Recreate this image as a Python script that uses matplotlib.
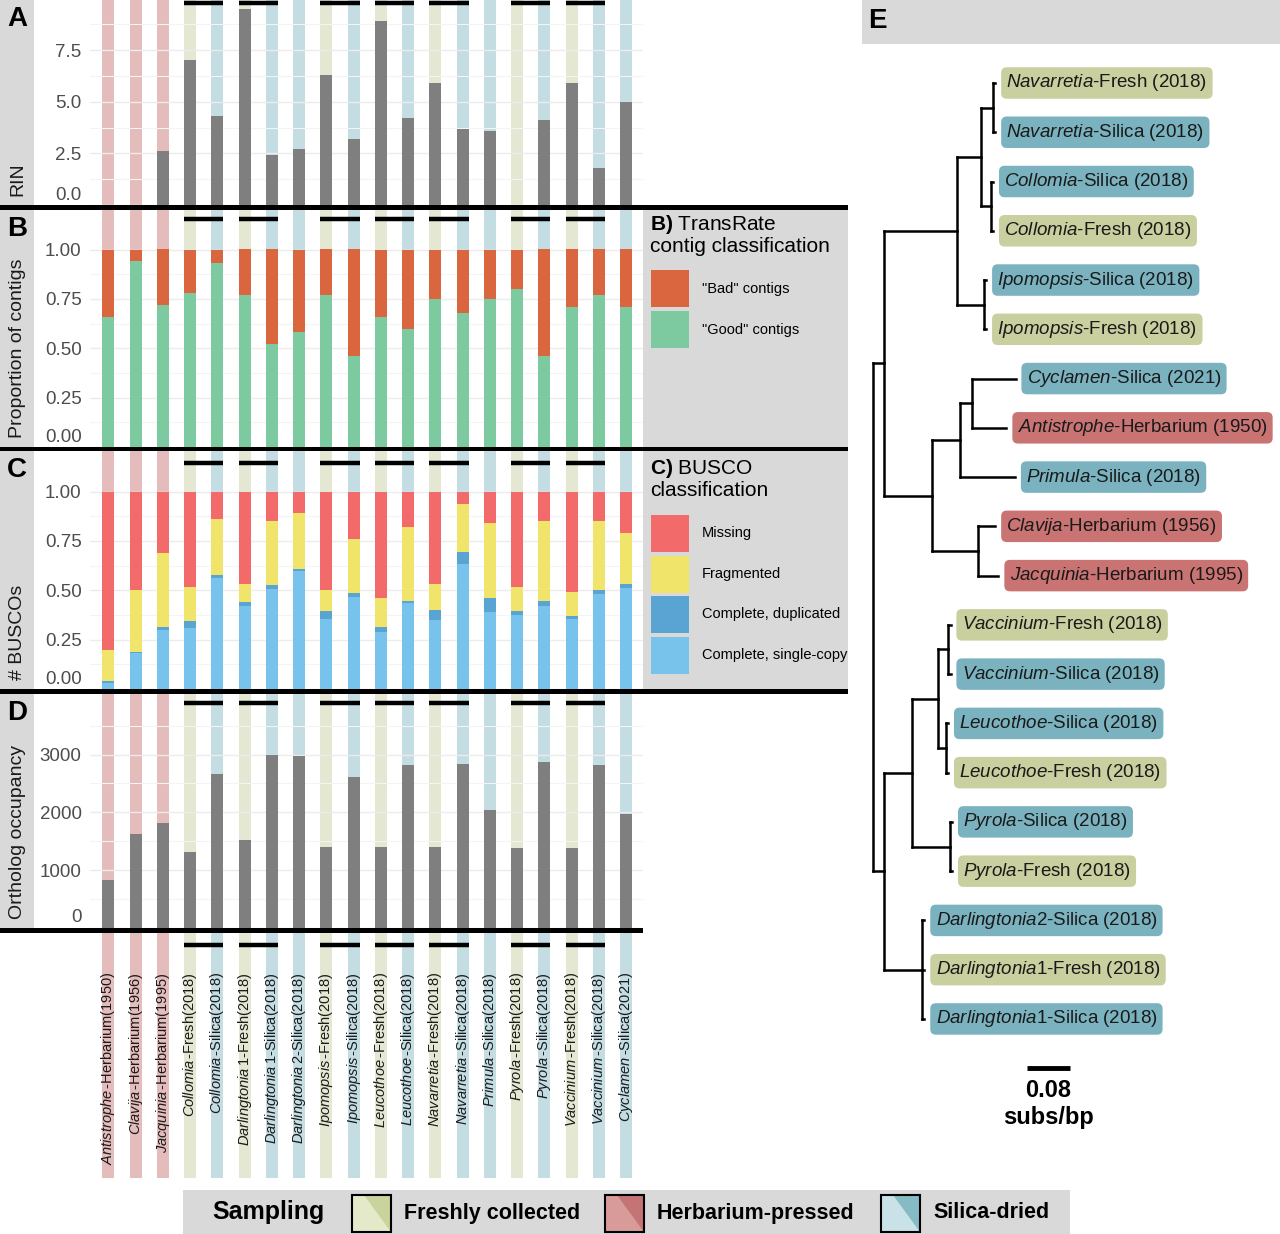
import numpy as np
import matplotlib.pyplot as plt
from matplotlib.patches import Rectangle, Polygon

plt.rcParams['font.family'] = ['Liberation Sans', 'DejaVu Sans']
plt.rcParams['mathtext.fontset'] = 'custom'
plt.rcParams['mathtext.rm'] = 'Liberation Sans'
plt.rcParams['mathtext.it'] = 'Liberation Sans:italic'
plt.rcParams['mathtext.bf'] = 'Liberation Sans:bold'

# ---- data: samples (left panels, left to right) ----
genus = ['Antistrophe', 'Clavija', 'Jacquinia', 'Collomia', 'Collomia', 'Darlingtonia',
         'Darlingtonia', 'Darlingtonia', 'Ipomopsis', 'Ipomopsis', 'Leucothoe', 'Leucothoe',
         'Navarretia', 'Navarretia', 'Primula', 'Pyrola', 'Pyrola', 'Vaccinium', 'Vaccinium',
         'Cyclamen']
suffix = ['-Herbarium(1950)', '-Herbarium(1956)', '-Herbarium(1995)', '-Fresh(2018)',
          '-Silica(2018)', '1-Fresh(2018)', '1-Silica(2018)', '2-Silica(2018)', '-Fresh(2018)',
          '-Silica(2018)', '-Fresh(2018)', '-Silica(2018)', '-Fresh(2018)', '-Silica(2018)',
          '-Silica(2018)', '-Fresh(2018)', '-Silica(2018)', '-Fresh(2018)', '-Silica(2018)',
          '-Silica(2021)']
sampling = ['Herbarium', 'Herbarium', 'Herbarium', 'Fresh', 'Silica', 'Fresh', 'Silica', 'Silica',
            'Fresh', 'Silica', 'Fresh', 'Silica', 'Fresh', 'Silica', 'Silica', 'Fresh', 'Silica',
            'Fresh', 'Silica', 'Silica']
pairs = [(3, 4), (5, 6), (8, 9), (10, 11), (12, 13), (15, 16), (17, 18)]

rin = np.array([np.nan, np.nan, 2.6, 7.0, 4.3, 9.5, 2.4, 2.7, 6.3, 3.2, 8.9, 4.2, 5.9, 3.7, 3.6,
                np.nan, 4.1, 5.9, 1.8, 5.0])
good_contigs = np.array([0.66, 0.94, 0.72, 0.78, 0.93, 0.77, 0.52, 0.58, 0.77, 0.46, 0.66, 0.60,
                         0.75, 0.68, 0.75, 0.80, 0.46, 0.71, 0.77, 0.71])
busco_single = np.array([0.03, 0.18, 0.30, 0.31, 0.56, 0.42, 0.505, 0.60, 0.356, 0.466, 0.29,
                         0.437, 0.35, 0.635, 0.39, 0.377, 0.422, 0.356, 0.483, 0.51])
busco_dup = np.array([0.01, 0.01, 0.015, 0.035, 0.017, 0.02, 0.02, 0.01, 0.041, 0.02, 0.022,
                      0.01, 0.052, 0.057, 0.072, 0.02, 0.025, 0.015, 0.02, 0.02])
busco_frag = np.array([0.16, 0.31, 0.375, 0.17, 0.286, 0.09, 0.326, 0.281, 0.103, 0.272, 0.15,
                       0.375, 0.129, 0.247, 0.379, 0.118, 0.404, 0.119, 0.348, 0.26])
busco_missing = 1 - busco_single - busco_dup - busco_frag
orthologs = np.array([825, 1620, 1820, 1315, 2670, 1530, 3000, 2970, 1400, 2605, 1405, 2815,
                      1405, 2830, 2035, 1390, 2870, 1380, 2820, 1965])

# ---- data: tree (right panel, top to bottom) ----
tree_genus = ['Navarretia', 'Navarretia', 'Collomia', 'Collomia', 'Ipomopsis', 'Ipomopsis',
              'Cyclamen', 'Antistrophe', 'Primula', 'Clavija', 'Jacquinia', 'Vaccinium',
              'Vaccinium', 'Leucothoe', 'Leucothoe', 'Pyrola', 'Pyrola', 'Darlingtonia',
              'Darlingtonia', 'Darlingtonia']
tree_rest = ['-Fresh (2018)', '-Silica (2018)', '-Silica (2018)', '-Fresh (2018)',
             '-Silica (2018)', '-Fresh (2018)', '-Silica (2021)', '-Herbarium (1950)',
             '-Silica (2018)', '-Herbarium (1956)', '-Herbarium (1995)', '-Fresh (2018)',
             '-Silica (2018)', '-Silica (2018)', '-Fresh (2018)', '-Silica (2018)',
             '-Fresh (2018)', '2-Silica (2018)', '1-Fresh (2018)', '1-Silica (2018)']
tree_sampling = ['Fresh', 'Silica', 'Silica', 'Fresh', 'Silica', 'Fresh', 'Silica', 'Herbarium',
                 'Silica', 'Herbarium', 'Herbarium', 'Fresh', 'Silica', 'Silica', 'Fresh',
                 'Silica', 'Fresh', 'Silica', 'Fresh', 'Silica']
tz = 0.004  # near-zero tip branches
# (children, branch length); a tip is (tip index, branch length)
tree = ([
    ([
        ([
            ([([(0, tz), (1, tz)], 0.023), ([(2, tz), (3, tz)], 0.019)], 0.045),
            ([(4, tz), (5, tz)], 0.051),
        ], 0.137),
        ([
            ([([(6, 0.082), (7, 0.065)], 0.022), (8, 0.103)], 0.053),
            ([(9, 0.032), (10, 0.038)], 0.087),
        ], 0.090),
    ], 0.021),
    ([
        ([
            ([([(11, tz), (12, tz)], 0.020), ([(13, tz), (14, tz)], 0.0155)], 0.049),
            ([(15, tz), (16, tz)], 0.072),
        ], 0.052),
        ([(17, tz), (18, tz), (19, tz)], 0.072),
    ], 0.021),
], 0.0)

# ---- colours ----
stripe_col = {'Fresh': '#e4e8d2', 'Herbarium': '#e4bcbc', 'Silica': '#c4dde3'}
tip_col = {'Fresh': '#c9cf9e', 'Herbarium': '#c97373', 'Silica': '#7ab3bf'}
key_col = {'Fresh': ('#e4e9ca', '#c9d39c'), 'Herbarium': ('#d99a9a', '#c47474'),
           'Silica': ('#c9e2e7', '#86bbc5')}
gray_bar = '#7f7f7f'
c_bad, c_good = '#d9663f', '#7dc9a0'
c_miss, c_frag, c_dup, c_single = '#f26a6a', '#f1e46a', '#5aa4d4', '#78c3ec'
panel_gray = '#d9d9d9'
tick_gray = '#4d4d4d'

W, H = 1280, 1234
fig = plt.figure(figsize=(W / 100, H / 100), dpi=100)


def frac_rect(x0, y0, x1, y1):
    return [x0 / W, 1 - y1 / H, (x1 - x0) / W, (y1 - y0) / H]


def fig_rect(x0, y0, x1, y1, color, **kw):
    fig.add_artist(Rectangle((x0 / W, 1 - y1 / H), (x1 - x0) / W, (y1 - y0) / H,
                             transform=fig.transFigure, facecolor=color, edgecolor='none', **kw))


def fig_text(x, y, s, **kw):
    fig.text(x / W, 1 - y / H, s, **kw)


idx = np.arange(len(genus))
bw = 0.44
xlim = ((90 - 108.3) / 27.25, (643 - 108.3) / 27.25)

panels = [
    dict(letter='A', label='RIN', top=0, bottom=205, ymax=9.92, major=[0, 2.5, 5, 7.5],
         minor=[1.25, 3.75, 6.25, 8.75], fmt='{:.1f}', line_off=3),
    dict(letter='B', label='Proportion of contigs', top=210, bottom=447, ymax=1.20,
         major=[0, 0.25, 0.5, 0.75, 1.0], minor=[0.125, 0.375, 0.625, 0.875], fmt='{:.2f}',
         line_off=9),
    dict(letter='C', label='# BUSCOs', top=451, bottom=689, ymax=1.206,
         major=[0, 0.25, 0.5, 0.75, 1.0], minor=[0.125, 0.375, 0.625, 0.875], fmt='{:.2f}',
         line_off=12),
    dict(letter='D', label='Ortholog occupancy', top=694, bottom=928, ymax=4048,
         major=[0, 1000, 2000, 3000], minor=[500, 1500, 2500, 3500], fmt='{:.0f}', line_off=9),
]

axes = []
for p in panels:
    ax = fig.add_axes(frac_rect(90, p['top'], 643, p['bottom']))
    ax.set_xlim(*xlim)
    ax.set_ylim(0, p['ymax'])
    for s in ax.spines.values():
        s.set_visible(False)
    ax.set_facecolor('none')
    ax.bar(idx, p['ymax'], width=bw, color=[stripe_col[s] for s in sampling], zorder=1)
    ax.set_yticks(p['major'])
    # the zero label sits just above the separator bar, placed by hand below
    ax.set_yticklabels(['' if v == 0 else p['fmt'].format(v) for v in p['major']])
    ax.set_yticks(p['minor'], minor=True)
    ax.grid(True, which='major', axis='y', color='#ececec', lw=1.0)
    ax.grid(True, which='minor', axis='y', color='#f4f4f4', lw=0.8)
    ax.set_xticks([])
    ax.tick_params(axis='y', which='both', length=0, labelsize=13.5, labelcolor=tick_gray, pad=6)
    fig_text(82, p['bottom'] - 10, p['fmt'].format(0), fontsize=13.5, color=tick_gray,
             ha='right', va='center')
    yl = 1 - p['line_off'] / (p['bottom'] - p['top'])
    for a, b in pairs:
        ax.plot([a - bw / 2, b + bw / 2], [yl, yl], color='black', lw=3.2,
                solid_capstyle='butt', transform=ax.get_xaxis_transform(), zorder=4)
    # left gray strip with letter and y label
    fig_rect(0, p['top'], 34, p['bottom'], panel_gray)
    fig_text(17, p['top'] + 19, p['letter'], fontsize=20, fontweight='bold', ha='center',
             va='center')
    fig_text(18, p['bottom'] - 9, p['label'], fontsize=14, rotation=90, ha='center', va='bottom',
             color='#1a1a1a')
    axes.append(ax)

axA, axB, axC, axD = axes

ok = ~np.isnan(rin)
axA.bar(idx[ok], rin[ok], width=bw, color=gray_bar, zorder=2)

axB.bar(idx, good_contigs, width=bw, color=c_good, zorder=2)
axB.bar(idx, 1 - good_contigs, bottom=good_contigs, width=bw, color=c_bad, zorder=2)

bottom = np.zeros(len(idx))
for vals, col in [(busco_single, c_single), (busco_dup, c_dup), (busco_frag, c_frag),
                  (busco_missing, c_miss)]:
    axC.bar(idx, vals, bottom=bottom, width=bw, color=col, zorder=2)
    bottom = bottom + vals

axD.bar(idx, orthologs, width=bw, color=gray_bar, zorder=2)

# sample label area
axL = fig.add_axes(frac_rect(90, 933, 643, 1178))
axL.set_xlim(*xlim)
axL.set_ylim(0, 1)
axL.axis('off')
axL.bar(idx, 1, width=bw, color=[stripe_col[s] for s in sampling], zorder=1)
for a, b in pairs:
    axL.plot([a - bw / 2, b + bw / 2], [0.951, 0.951], color='black', lw=3.2,
             solid_capstyle='butt', zorder=4)
for i in idx:
    axL.text(i, 0.84, f"$\\mathit{{{genus[i]}}}\\,${suffix[i]}", rotation=90, ha='center',
             va='top', fontsize=10.5, color='#1a1a1a', zorder=5)

# legends for B and C
fig_rect(643, 210, 848, 447, panel_gray)
fig_text(650, 225, r"$\mathbf{B)}$ TransRate", fontsize=15, va='center')
fig_text(650, 247, 'contig classification', fontsize=15, va='center')
for (y0, col, lab) in [(270, c_bad, '"Bad" contigs'), (311, c_good, '"Good" contigs')]:
    fig_rect(651, y0, 689, y0 + 37, col)
    fig_text(702, y0 + 19, lab, fontsize=10.5, va='center')

fig_rect(643, 451, 848, 689, panel_gray)
fig_text(650, 468, r"$\mathbf{C)}$ BUSCO", fontsize=15, va='center')
fig_text(650, 490, 'classification', fontsize=15, va='center')
for (y0, col, lab) in [(515, c_miss, 'Missing'), (556, c_frag, 'Fragmented'),
                       (596, c_dup, 'Complete, duplicated'),
                       (637, c_single, 'Complete, single-copy')]:
    fig_rect(651, y0, 689, y0 + 37, col)
    fig_text(702, y0 + 18, lab, fontsize=10.5, va='center')

# thick separators
for y0, y1, x1 in [(205, 210, 848), (447, 451, 848), (689, 694, 848), (928, 933, 643)]:
    fig_rect(0, y0, x1, y1, 'black', zorder=5)

# bottom sampling legend
fig_rect(183, 1190, 1070, 1234, panel_gray)
fig_text(212, 1212, 'Sampling', fontsize=18, fontweight='bold', va='center')
for x0, key, lab in [(352, 'Fresh', 'Freshly collected'), (605, 'Herbarium', 'Herbarium-pressed'),
                     (881, 'Silica', 'Silica-dried')]:
    x1, y0, y1 = x0 + 39, 1195, 1232
    light, dark = key_col[key]
    fig_rect(x0, y0, x1, y1, light)
    tri = [(x0 + 0.3 * (x1 - x0), y0), (x1, y0), (x1, y1)]
    fig.add_artist(Polygon([(x / W, 1 - y / H) for x, y in tri], closed=True,
                           transform=fig.transFigure, facecolor=dark, edgecolor='none'))
    fig.add_artist(Rectangle((x0 / W, 1 - y1 / H), (x1 - x0) / W, (y1 - y0) / H,
                             transform=fig.transFigure, facecolor='none', edgecolor='black',
                             lw=1.5))
    fig_text(x1 + 13, 1213, lab, fontsize=15.5, fontweight='bold', va='center')

# ---- panel E: tree ----
fig_rect(862, 0, 1280, 44, panel_gray)
fig_text(868, 21, 'E', fontsize=20, fontweight='bold', va='center')

px_per_unit = 533.0
tip_px = 49.26
axE = fig.add_axes(frac_rect(862, 50, 1280, 1140))
axE.set_xlim((862 - 872.7) / px_per_unit, (1280 - 872.7) / px_per_unit)
axE.set_ylim((1140 - 83) / tip_px, (50 - 83) / tip_px)
axE.axis('off')

segments = []
tip_x = {}


def place(node, x0):
    kids, bl = node
    x = x0 + bl
    if isinstance(kids, int):
        tip_x[kids] = x
        y = kids
    else:
        ys = [place(k, x) for k in kids]
        segments.append(([x, x], [ys[0], ys[-1]]))
        y = (ys[0] + ys[-1]) / 2
    if bl > 0:
        segments.append(([x0, x], [y, y]))
    return y


place(tree, 0.0)
for xs, ys in segments:
    axE.plot(xs, ys, color='black', lw=1.8, solid_capstyle='projecting', zorder=2)

for i in range(len(tree_genus)):
    axE.annotate(f"$\\mathit{{{tree_genus[i]}}}${tree_rest[i]}", xy=(tip_x[i], i),
                 xytext=(8, 0), textcoords='offset points', ha='left', va='center',
                 fontsize=13.5, color='#1a1a1a',
                 bbox=dict(boxstyle='round,pad=0.28,rounding_size=0.3',
                           fc=tip_col[tree_sampling[i]], ec='none'))

bar_x0 = (1027 - 872.7) / px_per_unit
axE.plot([bar_x0, bar_x0 + 0.08], [20.0, 20.0], color='black', lw=3.5, solid_capstyle='butt')
axE.text(bar_x0 + 0.04, 20.45, '0.08', fontsize=17, fontweight='bold', ha='center', va='center')
axE.text(bar_x0 + 0.04, 21.0, 'subs/bp', fontsize=17, fontweight='bold', ha='center',
         va='center')

fig.savefig('out.png', dpi=100)
